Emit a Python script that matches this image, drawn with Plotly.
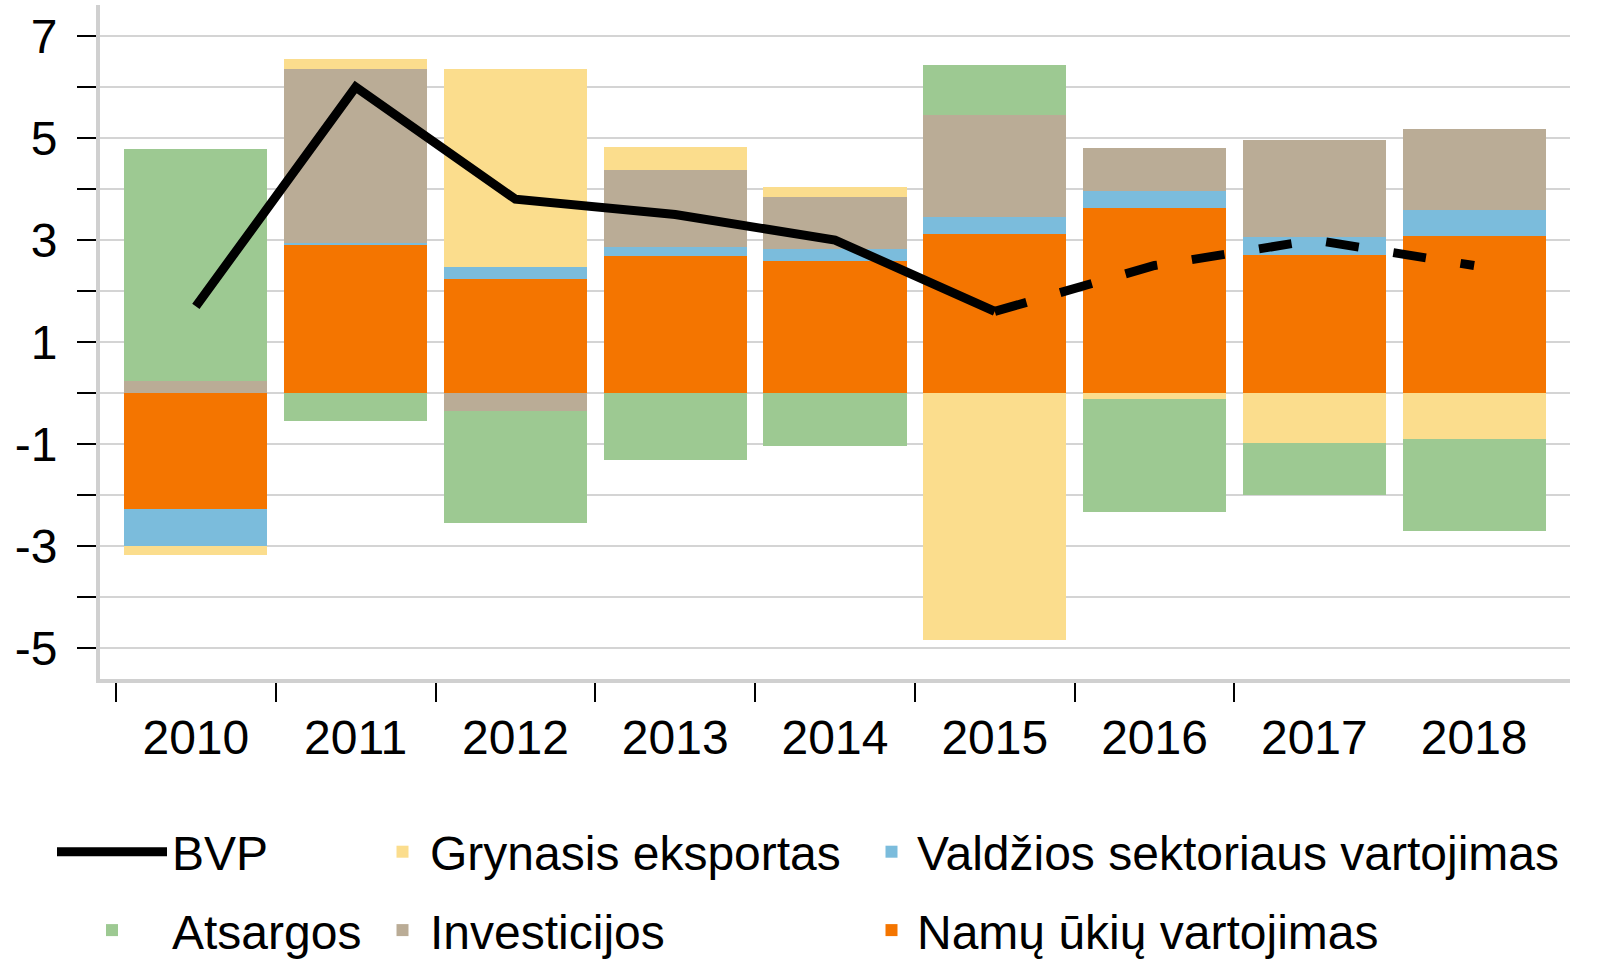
import plotly.graph_objects as go

years = ["2010", "2011", "2012", "2013", "2014", "2015", "2016", "2017", "2018"]
namu = [-2.28, 2.90, 2.24, 2.68, 2.59, 3.11, 3.62, 2.71, 3.08]
valdzios = [-0.73, 0.05, 0.24, 0.18, 0.23, 0.34, 0.35, 0.34, 0.51]
investicijos = [0.23, 3.41, -0.35, 1.52, 1.03, 2.00, 0.84, 1.92, 1.58]
grynasis = [-0.17, 0.20, 3.87, 0.45, 0.19, -4.85, -0.12, -0.98, -0.91]
atsargos = [4.56, -0.54, -2.20, -1.31, -1.03, 0.99, -2.22, -1.03, -1.79]
bvp = [1.7, 6.0, 3.8, 3.5, 3.0, 1.6, 2.5, 3.0, 2.5]
bvp_actual_last = 5  # index of last actual (solid) value: 2015

y_tick_vals = [-5, -4, -3, -2, -1, 0, 1, 2, 3, 4, 5, 6, 7]
y_tick_text = ["-5", "", "-3", "", "-1", "", "1", "", "3", "", "5", "", "7"]

FONT = "Arial, Liberation Sans, sans-serif"
C_NAMU = "#F47500"
C_VALD = "#7BBCDC"
C_INV = "#BAAC96"
C_GRYN = "#FBDD8D"
C_ATS = "#9DC992"

xs = list(range(len(years)))
boundaries = [i - 0.5 for i in xs[:-1]]

fig = go.Figure()

def bar(name, vals, color, legend, rank):
    fig.add_trace(go.Bar(
        x=xs, y=vals, name=name, width=0.896,
        marker=dict(color=color, line=dict(width=0)),
        legend=legend, legendrank=rank, legendgroup=name,
    ))

bar("Namų ūkių vartojimas", namu, C_NAMU, "legend3", 2)
bar("Valdžios sektoriaus vartojimas", valdzios, C_VALD, "legend3", 1)
bar("Investicijos", investicijos, C_INV, "legend2", 2)
bar("Grynasis eksportas", grynasis, C_GRYN, "legend2", 1)
bar("Atsargos", atsargos, C_ATS, "legend", 2)

fig.add_trace(go.Scatter(
    x=xs[:bvp_actual_last + 1], y=bvp[:bvp_actual_last + 1], mode="lines",
    name="BVP", line=dict(color="black", width=9),
    legend="legend", legendrank=1, legendgroup="bvp",
))
fig.add_trace(go.Scatter(
    x=xs[bvp_actual_last:], y=bvp[bvp_actual_last:], mode="lines",
    name="BVP prognozė", line=dict(color="black", width=9, dash="33px,35px"),
    legend="legend", legendgroup="bvp", showlegend=False,
))

W, H = 1598, 960
def legend_cfg(px_left, py_top, itemwidth):
    return dict(
        x=px_left / W, y=1 - py_top / H, xref="container", yref="container",
        xanchor="left", yanchor="top", orientation="v",
        font=dict(family=FONT, size=48, color="black"),
        itemwidth=itemwidth, tracegroupgap=13, bgcolor="rgba(0,0,0,0)",
        borderwidth=0,
    )

fig.update_layout(
    width=W, height=H,
    margin=dict(l=100, r=28, t=5, b=281, autoexpand=False),
    paper_bgcolor="white", plot_bgcolor="white",
    barmode="relative", bargap=0,
    font=dict(family=FONT, size=48, color="black"),
    showlegend=True,
    legend=legend_cfg(52, 814, 110),
    legend2=legend_cfg(375, 814, 45),
    legend3=legend_cfg(866, 814, 41),
    xaxis=dict(
        range=[-0.6, 8.6], tickmode="array", tickvals=xs, ticktext=years,
        ticks="", showgrid=False, zeroline=False,
        showline=True, linecolor="#D0D0D0", linewidth=4,
        tickfont=dict(family=FONT, size=48, color="black"),
        ticklabelstandoff=13,
        minor=dict(tickmode="array", tickvals=boundaries, ticks="outside",
                   ticklen=19, tickwidth=2, tickcolor="black", showgrid=False),
    ),
    yaxis=dict(
        range=[-5.61, 7.61], tickmode="array", tickvals=y_tick_vals, ticktext=y_tick_text,
        ticks="outside", ticklen=19, tickwidth=2, tickcolor="black",
        showgrid=True, gridcolor="#D4D4D4", gridwidth=2, zeroline=False,
        showline=True, linecolor="#D0D0D0", linewidth=4,
        tickfont=dict(family=FONT, size=48, color="black"),
        ticklabelstandoff=10,
    ),
)

fig.write_html(
    "out.html",
    config={"displayModeBar": False},
    post_script="document.body.style.margin='0px';document.body.style.overflow='hidden';",
)
